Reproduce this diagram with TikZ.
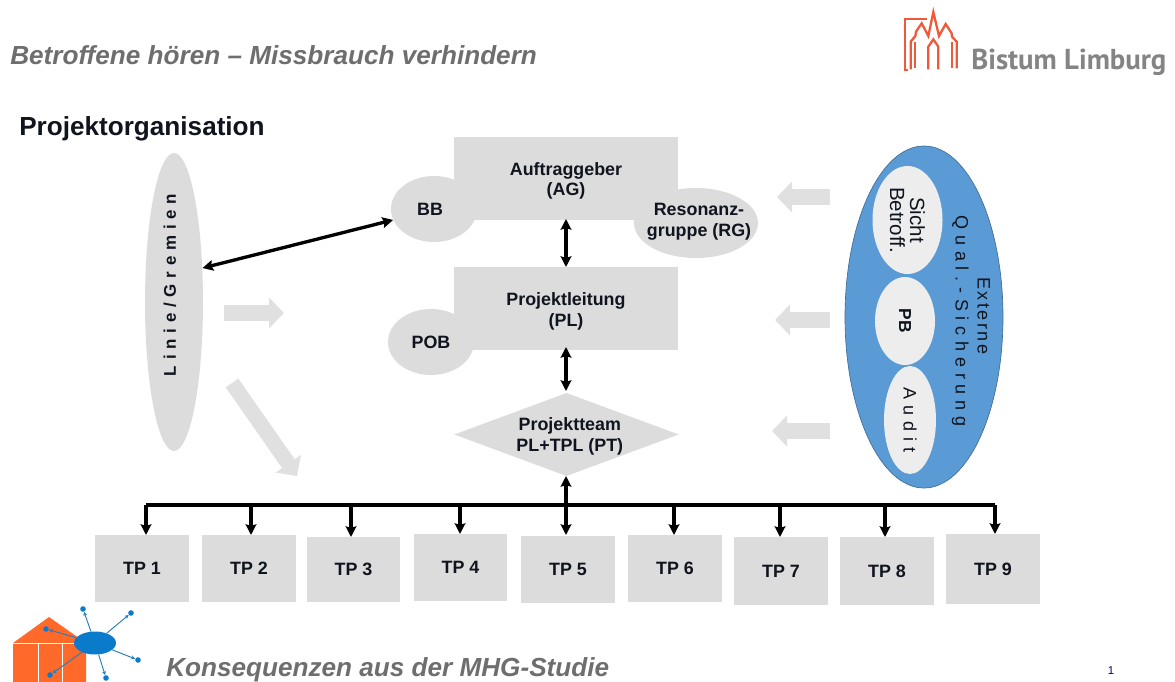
\documentclass[tikz,border=0pt]{standalone}
\usepackage{fontspec}
\setmainfont{Liberation Sans}
\newfontfamily\spacedA[LetterSpace=34]{Liberation Sans}
\newfontfamily\spacedB[LetterSpace=32]{Liberation Sans}
\newfontfamily\spacedC[LetterSpace=14]{Liberation Sans}
\newfontfamily\logofont{PT Sans}
\usetikzlibrary{shapes.geometric,arrows.meta}
\definecolor{boxgray}{HTML}{DCDCDC}
\definecolor{arrowgray}{HTML}{E0E0E0}
\definecolor{headgray}{HTML}{6E6E6E}
\definecolor{qblue}{HTML}{5B9BD5}
\definecolor{inner}{HTML}{EDEDED}
\definecolor{limburg}{HTML}{F0583A}
\definecolor{house}{HTML}{FF6A2B}
\definecolor{netblue}{HTML}{0A7BCB}
\definecolor{ink}{HTML}{10141E}
\def\px{0.75pt}
\newcommand{\lowerby}[1]{\rule{0pt}{#1}}
\tikzset{
  lab/.style={font=\bfseries\fontsize{13.4}{15.6}\selectfont,align=center,text=ink},
  greybox/.style={lab,fill=boxgray,draw=none,inner sep=0pt,minimum width=224*\px,minimum height=83*\px},
  greyell/.style={lab,ellipse,fill=boxgray,draw=none,inner sep=0pt,minimum width=#1*\px},
  tpbox/.style={lab,fill=boxgray,draw=none,inner sep=0pt,minimum width=94*\px,minimum height=67*\px},
  link/.style={line width=2.5pt,black,{Stealth[length=8pt,width=8pt,inset=1.2pt]}-{Stealth[length=8pt,width=8pt,inset=1.2pt]}},
  bus/.style={line width=3.4pt,black},
  drop/.style={line width=2.4pt,black,-{Stealth[length=8pt,width=8pt,inset=1.2pt]}},
  bigarrow/.style={arrowgray,line width=11.5pt,-{Triangle[length=11.25pt,width=22.5pt]}},
  innerell/.style={ellipse,fill=inner,draw=none,inner sep=0pt,align=center,text=ink,
     font=\fontsize{15.4}{15}\selectfont},
  churchline/.style={limburg,line width=1.7pt,line join=miter},
  netline/.style={netblue!75!gray,line width=0.7pt,-{Stealth[length=3pt,width=3pt]}},
  netdot/.style={circle,fill=netblue,draw=none,inner sep=0pt,minimum size=4.2pt},
}
\begin{document}
\begin{tikzpicture}[x=0.75pt,y=-0.75pt]
\useasboundingbox[fill=white] (0,0) rectangle (1175,682);

% header
\node[anchor=west,inner sep=0pt,text=headgray,font=\bfseries\itshape\fontsize{19.6}{22}\selectfont] (title) at (10,55) {Betroffene hören – Missbrauch verhindern};
\node[anchor=west,inner sep=0pt,font=\bfseries\fontsize{19.6}{22}\selectfont,text=ink] (heading) at (19,129) {Projektorganisation};

% Bistum Limburg logo
\begin{scope}[shift={(880,0)},x=0.25pt,y=-0.25pt]
\draw[churchline] (85,210) -- (75,210) -- (75,57) -- (140,57);
\draw[churchline] (92,208) -- (92,125) -- (106,108) -- (108,95) -- (125,70) -- (145,108) -- (160,36) -- (177,108) -- (197,72) -- (215,100) -- (216,110) -- (230,125) -- (230,205);
\draw[churchline] (106,205) -- (106,125);
\draw[churchline] (215,205) -- (215,125);
\draw[churchline] (145,208) -- (145,140) -- (160,118) -- (175,140) -- (175,208);
\end{scope}
\node[anchor=west,inner sep=0pt,text=headgray!85!white,font=\logofont\bfseries\fontsize{21.6}{24}\selectfont] (bistum) at (971,62) {Bistum Limburg};

% centre column
\node[greybox] (ag) at (566,178) {\lowerby{14pt}Auftraggeber\\(AG)};
\node[greyell=86,minimum height=66*\px] (bb) at (434,209) {BB\hspace*{6pt}};
\node[greyell=124,minimum height=70*\px] (rg) at (696,223) {};
\node[lab,inner sep=0pt] (rgtext) at (699,222) {Resonanz-\\gruppe (RG)};
\node[greybox] (pl) at (566,308.5) {\lowerby{14pt}Projektleitung\\(PL)};
\node[greyell=86,minimum height=66*\px] (pob) at (431,342) {POB};
\node[lab,diamond,fill=boxgray,draw=none,inner sep=0pt,minimum width=223*\px,minimum height=83*\px,aspect=2.7] (pt) at (566.5,434.5) {\lowerby{12.5pt}\hspace*{5pt}Projektteam\\\hspace*{5pt}PL+TPL (PT)};

% left ellipse
\node[greyell=58,minimum height=298*\px] (linie) at (174,302) {};
\node[rotate=90,font=\spacedA\bfseries\fontsize{12.7}{14}\selectfont,text=ink] (linietext) at (170,285) {Linie/Gremien};

% right ellipse
\node[ellipse,fill=qblue,draw=qblue!70!black,line width=0.5pt,inner sep=0pt,minimum width=158*\px,minimum height=342*\px] (ext) at (924,317) {};
\node[rotate=-90,align=center,font=\spacedB\fontsize{13.5}{16.5}\selectfont,text=ink] (exttext) at (971,321) {{\spacedC Externe}\hspace*{8pt}\\Qual.-Sicherung};
\node[innerell,rotate=-90,minimum width=108*\px,minimum height=70*\px] (sicht) at (907.5,220) {Sicht\\Betroff.};
\node[innerell,rotate=-90,minimum width=88*\px,minimum height=60*\px,font=\bfseries\fontsize{13}{14}\selectfont] (pb) at (905,321) {PB};
\node[innerell,rotate=-90,minimum width=108*\px,minimum height=52*\px,font=\spacedB\fontsize{13.5}{14}\selectfont] (audit) at (910,420) {Audit};

% big grey arrows
\coordinate (a1s) at (830,197); \coordinate (a1e) at (777,197);
\coordinate (a2s) at (830,320); \coordinate (a2e) at (775,320);
\coordinate (a3s) at (830,431); \coordinate (a3e) at (772,431);
\coordinate (a4s) at (224,313); \coordinate (a4e) at (284,313);
\coordinate (a5s) at (232,383); \coordinate (a5e) at (297,476);
\foreach \a in {a1,a2,a3,a4,a5}{ \draw[bigarrow] (\a s) -- (\a e); }

% TP boxes
\node[tpbox] (tp1) at (142,568.5) {TP 1};
\node[tpbox] (tp2) at (249,568.5) {TP 2};
\node[tpbox,minimum width=93*\px,minimum height=65*\px] (tp3) at (353.5,569.5) {TP 3};
\node[tpbox,minimum width=93*\px] (tp4) at (460.5,567.5) {TP 4};
\node[tpbox] (tp5) at (568,569.5) {TP 5};
\node[tpbox] (tp6) at (675,568.5) {TP 6};
\node[tpbox,minimum height=68*\px] (tp7) at (781,571) {TP 7};
\node[tpbox,minimum height=68*\px] (tp8) at (887,571) {TP 8};
\node[tpbox,minimum height=70*\px] (tp9) at (993,569) {TP 9};

% connectors
\coordinate (busL) at (146,505);
\coordinate (busR) at (995,505);
\draw[bus] (busL) -- (busR);
\foreach \n/\x/\y in {tp1/146/535,tp2/251/535,tp3/351/537,tp4/460/534,tp6/674/535,tp7/780/537,tp8/885/537,tp9/995/534}{
  \coordinate (d\n) at (\x,505);
  \coordinate (e\n) at (\x,\y);
  \draw[drop] (d\n) -- (e\n);
}
\draw[link] (linie.50) -- (bb.195);
\draw[link] (566,219) -- (566,267);
\draw[link] (566,347) -- (566,391);
\draw[link] (566,476) -- (566,535);

% footer
\node[anchor=west,inner sep=0pt,text=headgray,font=\bfseries\itshape\fontsize{19.6}{22}\selectfont] (foot) at (166,670) {Konsequenzen aus der MHG-Studie};
\node[inner sep=0pt,text=blue!40!black,font=\fontsize{8.5}{10}\selectfont] (pageno) at (1111,671) {1};

% footer logo
\fill[house] (13,643) -- (49,617) -- (86,643) -- (86,682) -- (13,682) -- cycle;
\draw[white,line width=0.7pt] (13,643) -- (86,643) (38,643) -- (38,682) (62,643) -- (62,682);
\node[ellipse,fill=netblue,draw=none,inner sep=0pt,minimum width=42*\px,minimum height=23*\px] (hub) at (95,643) {};
\foreach \i/\x/\y in {1/83/609,2/131/613,3/46/629,4/50/675,5/138/660,6/106/678}{
  \node[netdot] (n\i) at (\x,\y) {};
  \draw[netline] (hub) -- (n\i);
}
\end{tikzpicture}
\end{document}
